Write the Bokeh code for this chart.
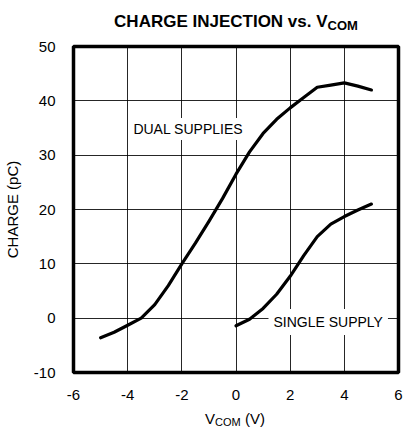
from bokeh.plotting import figure
from bokeh.models import Range1d, FixedTicker, Label, Div
from bokeh.layouts import column
from bokeh.embed import file_html
from bokeh.resources import INLINE

# ---- data ----
dual_x = [-5, -4.5, -4, -3.5, -3, -2.5, -2, -1.5, -1, -0.5, 0, 0.5, 1, 1.5, 2, 2.5, 3, 3.5, 4, 4.5, 5]
dual_y = [-3.6, -2.6, -1.3, 0, 2.5, 6, 10, 13.8, 17.8, 22, 26.5, 30.6, 34, 36.6, 38.7, 40.6, 42.5, 42.9, 43.3, 42.7, 42.0]
single_x = [0, 0.5, 1, 1.5, 2, 2.5, 3, 3.5, 4, 4.5, 5]
single_y = [-1.4, -0.2, 1.8, 4.4, 7.7, 11.5, 15, 17.3, 18.7, 19.9, 21]
x_ticks = [-6, -4, -2, 0, 2, 4, 6]
y_ticks = [-10, 0, 10, 20, 30, 40, 50]
title_main = "CHARGE INJECTION vs. V"
title_sub = "COM"
y_label = "CHARGE (pC)"
x_label_main = "V"
x_label_sub = "COM"
x_label_tail = "(V)"
dual_label = "DUAL SUPPLIES"
single_label = "SINGLE SUPPLY"

FONT = "Liberation Sans"
W = 403

p = figure(width=W, height=364, output_backend="svg", toolbar_location=None,
           x_range=Range1d(-6, 6), y_range=Range1d(-10, 50), margin=0,
           min_border_left=73, min_border_right=5, min_border_top=8, min_border_bottom=30)
p.background_fill_color = "white"
p.border_fill_color = "white"
p.outline_line_color = "black"
p.outline_line_width = 3.5

for ax in (p.xaxis[0], p.yaxis[0]):
    ax.major_tick_in = 0
    ax.major_tick_out = 0
    ax.minor_tick_in = 0
    ax.minor_tick_out = 0
    ax.axis_line_color = None
    ax.major_label_text_font = FONT
    ax.major_label_text_font_size = "15px"
    ax.major_label_text_color = "black"

p.xaxis.ticker = FixedTicker(ticks=x_ticks)
p.yaxis.ticker = FixedTicker(ticks=y_ticks)
p.xaxis.major_label_overrides = {t: str(t) for t in x_ticks}
p.yaxis.major_label_overrides = {t: str(t) for t in y_ticks}
p.xaxis.major_label_standoff = 17
p.yaxis.major_label_standoff = 18
p.yaxis.axis_label = y_label
p.yaxis.axis_label_text_font = FONT
p.yaxis.axis_label_text_font_size = "15px"
p.yaxis.axis_label_text_font_style = "normal"
p.yaxis.axis_label_text_color = "black"
p.yaxis.axis_label_standoff = 10

p.xgrid.ticker = FixedTicker(ticks=x_ticks)
p.ygrid.ticker = FixedTicker(ticks=y_ticks)
p.grid.grid_line_color = "black"
p.grid.grid_line_width = 1
p.grid.grid_line_alpha = 0.85

p.line(dual_x, dual_y, line_color="black", line_width=3.2, line_join="round", line_cap="round")
p.line(single_x, single_y, line_color="black", line_width=3.2, line_join="round", line_cap="round")

p.add_layout(Label(x=-3.9, y=34.8, text=dual_label, text_font=FONT, text_font_size="14px",
                   text_baseline="middle", text_align="left", text_color="black",
                   background_fill_color="white", padding=3))
p.add_layout(Label(x=1.2, y=-0.7, text=single_label, text_font=FONT, text_font_size="14px",
                   text_baseline="middle", text_align="left", text_color="black",
                   background_fill_color="white", padding=5))

title_div = Div(
    text=f'{title_main}<span style="font-size:13px;vertical-align:-3px">{title_sub}</span>',
    width=W, height=38, margin=0,
    styles={"font-family": FONT, "font-size": "17px", "font-weight": "bold", "color": "black",
            "text-align": "center", "padding-left": "69px", "padding-top": "12px",
            "line-height": "20px", "box-sizing": "border-box", "width": f"{W}px"})
xlabel_div = Div(
    text=f'{x_label_main}<span style="font-size:11px;vertical-align:-2px">{x_label_sub}</span> {x_label_tail}',
    width=W, height=28, margin=0,
    styles={"font-family": FONT, "font-size": "15px", "color": "black",
            "text-align": "center", "padding-left": "67px", "padding-top": "8px",
            "line-height": "18px", "box-sizing": "border-box", "width": f"{W}px"})

layout = column(title_div, p, xlabel_div, spacing=0, margin=0)

open("out.html", "w").write(file_html(layout, INLINE))
